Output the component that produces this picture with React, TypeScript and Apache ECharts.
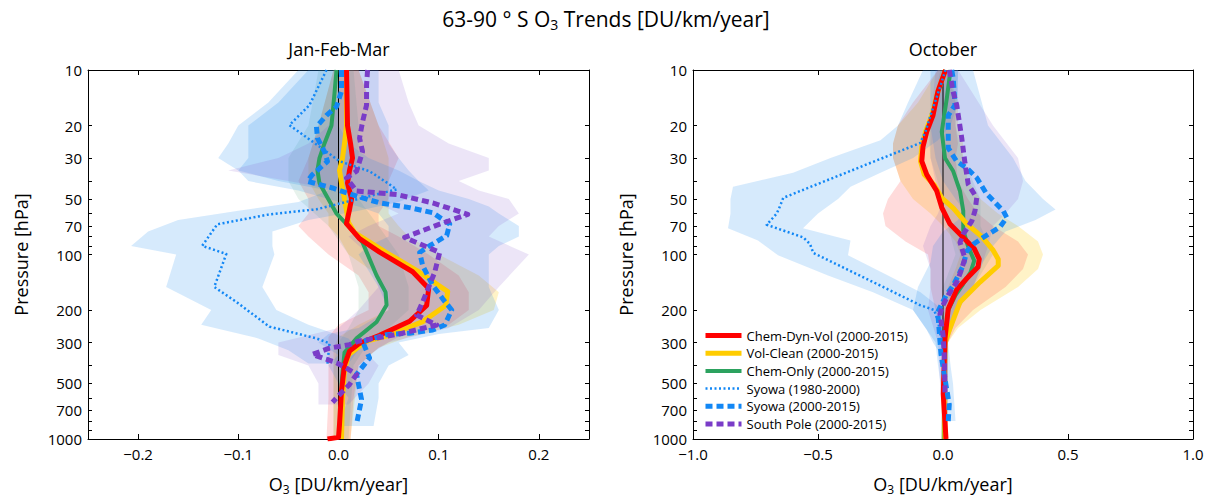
import React, { useEffect, useRef } from "react";
import * as echarts from "echarts";

const FONT = "'Open Sans', 'DejaVu Sans', sans-serif";

// ---- axis ticks ----
const PRESSURE_TICKS = [10, 20, 30, 40, 50, 60, 70, 80, 90, 100, 200, 300, 400, 500, 600, 700, 800, 900, 1000];
const PRESSURE_LABELS = [10, 20, 30, 50, 70, 100, 200, 300, 500, 700, 1000];
const JFM_X_TICKS = [-0.2, -0.1, 0, 0.1, 0.2];
const OCT_X_TICKS = [-1, -0.5, 0, 0.5, 1];

const NAMES = [
  "Chem-Dyn-Vol (2000-2015)",
  "Vol-Clean (2000-2015)",
  "Chem-Only (2000-2015)",
  "Syowa (1980-2000)",
  "Syowa (2000-2015)",
  "South Pole (2000-2015)",
];

// ---- profiles: [trend, pressure] ----
const JFM_CDV = [[0.008,10],[0.009,20],[0.012,25],[0.014,30],[0.011,35],[0.009,41],[0.013,50],[0.011,57],[0.008,68],[0.021,82],[0.041,97],[0.074,124],[0.090,153],[0.088,189],[0.071,230],[0.041,274],[0.021,303],[0.011,334],[0.006,397],[0.003,548],[0.001,836],[0.0,980],[-0.011,1000]];
const JFM_VC = [[0.008,10],[0.008,20],[0.006,25],[0.004,30],[0.001,35],[0.003,41],[0.006,50],[0.010,67],[0.016,76],[0.047,97],[0.080,124],[0.109,159],[0.107,189],[0.084,231],[0.051,274],[0.027,296],[0.010,350],[0.006,420],[0.004,600],[0.003,1000]];
const JFM_CO = [[-0.002,10],[-0.004,13.4],[-0.007,20],[-0.014,25],[-0.019,30],[-0.021,35],[-0.019,41],[-0.013,47],[-0.002,60],[0.012,72],[0.024,86],[0.038,130],[0.047,160],[0.048,188],[0.038,232],[0.018,285],[0.006,340],[0.003,500],[0.003,1000]];
const JFM_SY80 = [[-0.012,10],[-0.029,15.5],[-0.049,19.9],[-0.019,26],[0.001,31.2],[0.031,35.4],[0.051,41.7],[0.058,44.4],[-0.022,56.9],[-0.069,60.6],[-0.121,68.6],[-0.136,89.7],[-0.112,99.4],[-0.124,150],[-0.102,180.7],[-0.069,246],[-0.022,285],[-0.009,303],[-0.011,390]];
const JFM_SY00 = [[0.003,10],[0.003,13],[-0.002,15.8],[-0.012,17.6],[-0.022,20.3],[-0.021,23.4],[-0.014,27.7],[-0.011,31.3],[-0.026,36.9],[-0.031,40.1],[-0.006,43.6],[0.018,48.3],[0.041,52.5],[0.071,55.7],[0.094,59.4],[0.111,68.4],[0.108,79],[0.091,89.6],[0.081,97.5],[0.084,114.9],[0.094,146.8],[0.104,173.9],[0.113,199.8],[0.106,241],[0.094,256.7],[0.071,267],[0.048,272],[0.024,296],[0.031,364],[0.018,446],[0.021,540],[0.023,610],[0.018,832]];
const JFM_SP = [[0.029,10],[0.028,12.1],[0.028,15.5],[0.024,19.1],[0.021,23.4],[0.024,27.7],[0.018,35.4],[0.008,38.5],[0.018,45.3],[0.058,47.3],[0.094,52.5],[0.129,60.6],[0.101,68.4],[0.066,80.8],[0.101,97.4],[0.096,124.9],[0.084,180.7],[0.078,213],[0.098,241],[0.06,270],[0.02,295],[0.011,308],[-0.009,322],[-0.026,348],[-0.016,364],[-0.002,386],[0.008,413],[0.018,446],[0.011,506],[0.003,561],[-0.006,632]];

const OCT_CDV = [[0.01,10],[-0.02,13],[-0.04,17.6],[-0.065,21.6],[-0.08,26],[-0.085,31.2],[-0.065,36.9],[-0.025,45.3],[-0.005,55.7],[0.028,68.4],[0.081,80.8],[0.125,93],[0.145,106],[0.14,117],[0.095,135],[0.055,155],[0.021,197],[0.008,285],[0.001,573],[0.012,1000]];
const OCT_VC = [[0.01,10],[-0.02,13],[-0.045,17.6],[-0.07,21.6],[-0.085,26],[-0.09,31.2],[-0.075,36.9],[-0.035,42],[-0.005,49.3],[0.041,56],[0.096,68.4],[0.155,80],[0.201,95],[0.221,106],[0.221,115],[0.148,141],[0.068,181],[0.028,251],[0.008,300],[0.004,550],[0.008,1000]];
const OCT_CO = [[0.03,10],[0.015,14.3],[-0.005,21.6],[0.008,30],[0.041,35.4],[0.068,45.3],[0.081,58],[0.081,74],[0.1,90],[0.125,108],[0.11,125],[0.08,145],[0.05,166],[0.021,200],[0.01,260],[0.005,400],[0.003,1000]];
const OCT_SY80 = [[0.01,10],[-0.02,13.4],[-0.05,17.6],[-0.07,21.6],[-0.092,24.9],[-0.639,49.3],[-0.652,54.7],[-0.665,60],[-0.705,69],[-0.559,80.8],[-0.532,87.7],[-0.519,98],[-0.28,141],[-0.092,188],[-0.035,200],[-0.019,232],[-0.008,285],[0.0,311]];
const OCT_SY00 = [[0.035,10],[0.041,11.2],[0.048,15.5],[0.021,17.6],[0.021,26.5],[0.055,31.3],[0.095,34],[0.135,38.4],[0.175,47],[0.241,58],[0.255,63],[0.228,71],[0.161,80.8],[0.121,88],[0.095,96],[0.081,114.6],[0.041,147],[0.013,166],[-0.021,205],[-0.008,347],[0.005,447],[0.025,650],[0.021,800]];
const OCT_SP = [[0.025,10],[0.04,13],[0.055,15.5],[0.075,23.4],[0.088,32],[0.101,41.7],[0.135,49.3],[0.128,58],[0.115,66],[0.081,77.6],[0.068,86],[0.088,105],[0.07,125],[0.055,141],[0.021,166],[0.0,188],[-0.012,210],[0.0,272],[0.005,350],[0.008,570]];

// ---- uncertainty bands: [pressure, low, high] ----
const JFM_CDV_BAND = [[10,-0.005,0.02],[20,-0.02,0.04],[30,-0.03,0.06],[40,-0.04,0.05],[50,-0.03,0.05],[60,-0.03,0.04],[70,-0.04,0.04],[80,-0.03,0.06],[100,-0.01,0.09],[130,0.02,0.12],[160,0.03,0.13],[200,0.03,0.13],[240,0.0,0.11],[280,-0.01,0.06],[320,-0.01,0.04],[400,-0.01,0.02],[600,-0.01,0.015],[1000,-0.012,0.012]];
const JFM_VC_BAND = [[10,-0.005,0.02],[20,-0.02,0.04],[30,-0.03,0.05],[40,-0.03,0.05],[50,-0.02,0.05],[60,-0.01,0.05],[70,-0.01,0.06],[80,0.0,0.07],[100,0.01,0.10],[130,0.04,0.14],[160,0.05,0.16],[200,0.05,0.155],[240,0.02,0.12],[280,0.0,0.07],[320,-0.005,0.04],[400,-0.005,0.02],[1000,-0.005,0.012]];
const JFM_CO_BAND = [[10,-0.02,0.015],[20,-0.03,0.02],[30,-0.05,0.02],[40,-0.05,0.01],[50,-0.04,0.02],[70,-0.01,0.04],[100,0.01,0.06],[150,0.02,0.07],[200,0.02,0.07],[250,0.01,0.05],[300,0.0,0.03],[400,-0.005,0.015],[1000,-0.005,0.01]];
const JFM_SY80_BAND = [[10,-0.04,0.0],[15,-0.07,0.0],[20,-0.10,0.0],[25,-0.11,0.01],[30,-0.12,0.03],[35,-0.10,0.06],[40,-0.06,0.08],[45,-0.01,0.09],[52,-0.04,0.06],[58,-0.10,0.02],[65,-0.16,-0.03],[75,-0.19,-0.066],[90,-0.207,-0.066],[100,-0.162,-0.064],[150,-0.172,-0.076],[200,-0.127,-0.062],[240,-0.137,-0.03],[285,-0.08,0.01],[330,-0.05,0.02],[390,-0.03,0.01]];
const JFM_SY00_BAND = [[10,-0.03,0.04],[15,-0.06,0.04],[20,-0.09,0.05],[25,-0.09,0.05],[30,-0.09,0.06],[35,-0.10,0.07],[40,-0.09,0.08],[45,-0.04,0.10],[50,-0.01,0.13],[55,0.02,0.15],[60,0.04,0.16],[70,0.05,0.18],[80,0.05,0.18],[90,0.03,0.16],[100,0.02,0.15],[150,0.04,0.15],[200,0.05,0.16],[250,0.02,0.15],[270,-0.01,0.10],[300,-0.02,0.06],[350,0.0,0.07],[400,-0.01,0.05],[500,0.0,0.04],[600,0.01,0.04],[850,0.0,0.035]];
const JFM_SP_BAND = [[10,0.0,0.06],[15,0.0,0.07],[20,-0.01,0.08],[25,-0.03,0.11],[30,-0.06,0.15],[35,-0.11,0.15],[40,-0.05,0.12],[45,0.0,0.14],[50,0.03,0.17],[60,0.06,0.18],[70,0.03,0.16],[80,0.01,0.15],[100,0.03,0.19],[150,0.04,0.16],[200,0.02,0.14],[250,0.0,0.11],[300,-0.06,0.05],[350,-0.06,0.03],[400,-0.03,0.04],[500,-0.02,0.03],[650,-0.02,0.01]];

const OCT_CDV_BAND = [[10,-0.02,0.02],[15,-0.12,0.05],[20,-0.18,0.05],[25,-0.2,0.06],[30,-0.2,0.05],[40,-0.17,0.06],[50,-0.22,0.1],[60,-0.24,0.14],[70,-0.23,0.2],[85,-0.15,0.3],[100,-0.06,0.34],[120,-0.05,0.32],[150,-0.05,0.25],[200,-0.03,0.12],[250,-0.01,0.05],[300,-0.005,0.02],[1000,-0.005,0.02]];
const OCT_VC_BAND = [[10,-0.02,0.02],[15,-0.1,0.06],[20,-0.18,0.06],[25,-0.2,0.08],[30,-0.2,0.08],[40,-0.17,0.1],[50,-0.12,0.15],[60,-0.05,0.22],[70,0.0,0.30],[85,0.05,0.38],[100,0.07,0.40],[120,0.05,0.38],[150,0.02,0.3],[200,0.0,0.15],[250,0.0,0.06],[300,-0.005,0.02],[1000,-0.005,0.02]];
const OCT_CO_BAND = [[10,-0.01,0.06],[20,-0.06,0.05],[30,-0.05,0.08],[50,0.0,0.15],[70,0.02,0.15],[100,0.05,0.2],[150,0.0,0.12],[200,-0.01,0.06],[300,0.0,0.02],[1000,-0.005,0.015]];
const OCT_SY80_BAND = [[10,-0.08,0.06],[15,-0.14,0.06],[20,-0.18,0.03],[24,-0.25,-0.02],[30,-0.45,-0.12],[36,-0.6,-0.25],[43,-0.84,-0.37],[50,-0.85,-0.42],[60,-0.85,-0.50],[72,-0.86,-0.56],[84,-0.74,-0.37],[101,-0.66,-0.38],[130,-0.46,-0.22],[160,-0.28,-0.09],[200,-0.12,0.0],[256,-0.065,0.0],[300,-0.04,0.01],[330,-0.02,0.01]];
const OCT_SY00_BAND = [[10,-0.05,0.12],[20,-0.05,0.18],[30,-0.03,0.28],[40,0.0,0.33],[50,0.05,0.40],[57,0.08,0.45],[65,0.06,0.37],[75,0.0,0.25],[90,-0.04,0.20],[110,-0.05,0.16],[150,-0.1,0.12],[200,-0.12,0.06],[250,-0.07,0.03],[300,-0.03,0.02],[400,-0.02,0.03],[500,-0.01,0.04],[800,0.0,0.05]];
const OCT_SP_BAND = [[10,-0.03,0.06],[20,-0.05,0.2],[30,-0.05,0.3],[40,-0.03,0.32],[50,0.0,0.3],[60,-0.02,0.25],[70,-0.05,0.2],[90,-0.08,0.18],[120,-0.05,0.15],[150,-0.05,0.12],[200,-0.06,0.06],[300,-0.02,0.02],[570,-0.01,0.02]];

const ZERO_LINE = [[0, 10], [0, 1000]];

const C_RED = "#ff0000";
const C_YELLOW = "#ffcc00";
const C_GREEN = "#2ca25f";
const C_BLUE = "#1287f5";
const C_PURPLE = "#7a3cc8";

const B_RED = "rgba(255,40,40,0.17)";
const B_YELLOW = "rgba(255,200,0,0.22)";
const B_GREEN = "rgba(60,150,100,0.12)";
const B_BLUE = "rgba(30,140,240,0.18)";
const B_PURPLE = "rgba(130,80,200,0.15)";

const RICH = (size: number) => ({
  a: { fontSize: size, fontFamily: FONT, color: "#000", lineHeight: size + 6, verticalAlign: "middle" },
  s: { fontSize: Math.round(size * 0.65), fontFamily: FONT, color: "#000", lineHeight: 12, padding: [10, 0, 0, 0], verticalAlign: "middle" },
});

const fmtX = (v: number) => (v < 0 ? "\u2212" : "") + Math.abs(v).toFixed(1);

const LINE_STYLES: any[] = [
  { color: C_RED, width: 5, type: "solid" },
  { color: C_YELLOW, width: 5, type: "solid" },
  { color: C_GREEN, width: 4, type: "solid" },
  { color: C_BLUE, width: 2.5, type: [2, 2.5] },
  { color: C_BLUE, width: 5, type: [7, 4] },
  { color: C_PURPLE, width: 5, type: [7, 4] },
];

function bandSeries(band: number[][], axis: number, color: string) {
  return {
    type: "custom",
    xAxisIndex: axis,
    yAxisIndex: axis,
    silent: true,
    clip: true,
    z: 1,
    data: band.map(([p, lo, hi]) => [lo, hi, p]),
    encode: { x: [0, 1], y: 2 },
    renderItem: (params: any, api: any) => {
      if (params.dataIndex !== 0) return null;
      const left = band.map(([p, lo]) => api.coord([lo, p]));
      const right = band.map(([p, , hi]) => api.coord([hi, p])).reverse();
      return { type: "polygon", shape: { points: left.concat(right) }, style: { fill: color, stroke: null } };
    },
  };
}

function lineSeries(name: string | undefined, data: number[][], axis: number, st: any, z: number) {
  return {
    type: "line",
    name,
    data,
    xAxisIndex: axis,
    yAxisIndex: axis,
    symbol: "none",
    showSymbol: false,
    silent: true,
    z,
    lineStyle: { color: st.color, width: st.width, type: st.type, cap: "butt", join: "round" },
    itemStyle: { color: st.color },
  };
}

function panelSeries(axis: number, lines: number[][][], bands: number[][][]) {
  const bandColors = [B_RED, B_YELLOW, B_GREEN, B_BLUE, B_BLUE, B_PURPLE];
  const out: any[] = [];
  [1, 0, 2, 3, 4, 5].forEach((i) => out.push(bandSeries(bands[i], axis, bandColors[i])));
  out.push(lineSeries(undefined, ZERO_LINE, axis, { color: "#000", width: 1, type: "solid" }, 3));
  [2, 1, 0, 3, 4, 5].forEach((i, k) => out.push(lineSeries(NAMES[i], lines[i], axis, LINE_STYLES[i], 4 + k)));
  return out;
}

function xAxisDef(gridIndex: number, position: string, min: number, max: number, ticks: number[], main: boolean) {
  return {
    type: "value",
    gridIndex,
    position,
    min,
    max,
    axisLine: { show: true, onZero: false, lineStyle: { color: "#000", width: 1 } },
    axisTick: { show: true, inside: true, length: 5, customValues: ticks, lineStyle: { color: "#000" } },
    axisLabel: { show: main, customValues: ticks, formatter: fmtX, fontSize: 15, fontFamily: FONT, color: "#000", margin: 7 },
    splitLine: { show: false },
    name: main ? "{a|O}{s|3}{a| [DU/km/year]}" : "",
    nameLocation: "middle",
    nameGap: 33,
    nameTextStyle: { rich: RICH(18) },
  };
}

function yAxisDef(gridIndex: number, position: string, main: boolean) {
  return {
    type: "log",
    logBase: 10,
    gridIndex,
    position,
    min: 10,
    max: 1000,
    inverse: true,
    axisLine: { show: true, onZero: false, lineStyle: { color: "#000", width: 1 } },
    axisTick: { show: true, inside: true, length: 4, customValues: PRESSURE_TICKS, lineStyle: { color: "#000" } },
    axisLabel: { show: main, customValues: PRESSURE_LABELS, formatter: (v: number) => String(Math.round(v)), fontSize: 15, fontFamily: FONT, color: "#000", margin: 6 },
    minorTick: { show: false },
    splitLine: { show: false },
    name: main ? "Pressure [hPa]" : "",
    nameLocation: "middle",
    nameGap: 58,
    nameTextStyle: { fontSize: 18, fontFamily: FONT, color: "#000" },
  };
}

export default function App() {
  const ref = useRef<HTMLDivElement>(null);
  useEffect(() => {
    if (!ref.current) return;
    const chart = echarts.init(ref.current, undefined, { renderer: "svg" });
    const option: any = {
      animation: false,
      backgroundColor: "#fff",
      grid: [
        { left: 88, top: 70, width: 501, height: 372 },
        { left: 693, top: 70, width: 500, height: 372 },
      ],
      xAxis: [
        xAxisDef(0, "bottom", -0.25, 0.25, JFM_X_TICKS, true),
        xAxisDef(0, "top", -0.25, 0.25, JFM_X_TICKS, false),
        xAxisDef(1, "bottom", -1, 1, OCT_X_TICKS, true),
        xAxisDef(1, "top", -1, 1, OCT_X_TICKS, false),
      ],
      yAxis: [
        yAxisDef(0, "left", true),
        yAxisDef(0, "right", false),
        yAxisDef(1, "left", true),
        yAxisDef(1, "right", false),
      ],
      legend: {
        orient: "vertical",
        left: 703,
        top: 329,
        padding: 0,
        itemWidth: 36,
        itemHeight: 12,
        itemGap: 4.7,
        selectedMode: false,
        itemStyle: { opacity: 0, borderWidth: 0 },
        data: NAMES.map((name, i) => ({
          name,
          itemStyle: { opacity: 0, borderWidth: 0 },
          lineStyle: { color: LINE_STYLES[i].color, width: LINE_STYLES[i].width, type: LINE_STYLES[i].type, cap: "butt" },
        })),
        textStyle: { fontSize: 13, fontFamily: FONT, color: "#000" },
      },
      graphic: [
        {
          type: "text",
          x: 606,
          y: 19,
          style: { text: "{a|63-90 \u00b0 S O}{s|3}{a| Trends [DU/km/year]}", rich: RICH(21), align: "center", verticalAlign: "middle" },
        },
        { type: "text", x: 339, y: 49, style: { text: "Jan-Feb-Mar", fontSize: 18, fontFamily: FONT, fill: "#000", align: "center", verticalAlign: "middle" } },
        { type: "text", x: 943, y: 49, style: { text: "October", fontSize: 18, fontFamily: FONT, fill: "#000", align: "center", verticalAlign: "middle" } },
      ],
      series: [
        ...panelSeries(0, [JFM_CDV, JFM_VC, JFM_CO, JFM_SY80, JFM_SY00, JFM_SP], [JFM_CDV_BAND, JFM_VC_BAND, JFM_CO_BAND, JFM_SY80_BAND, JFM_SY00_BAND, JFM_SP_BAND]),
        ...panelSeries(2, [OCT_CDV, OCT_VC, OCT_CO, OCT_SY80, OCT_SY00, OCT_SP], [OCT_CDV_BAND, OCT_VC_BAND, OCT_CO_BAND, OCT_SY80_BAND, OCT_SY00_BAND, OCT_SP_BAND]),
      ],
    };
    chart.setOption(option);
    return () => chart.dispose();
  }, []);
  return <div ref={ref} style={{ position: "absolute", left: 0, top: 0, width: 1208, height: 500 }} />;
}
